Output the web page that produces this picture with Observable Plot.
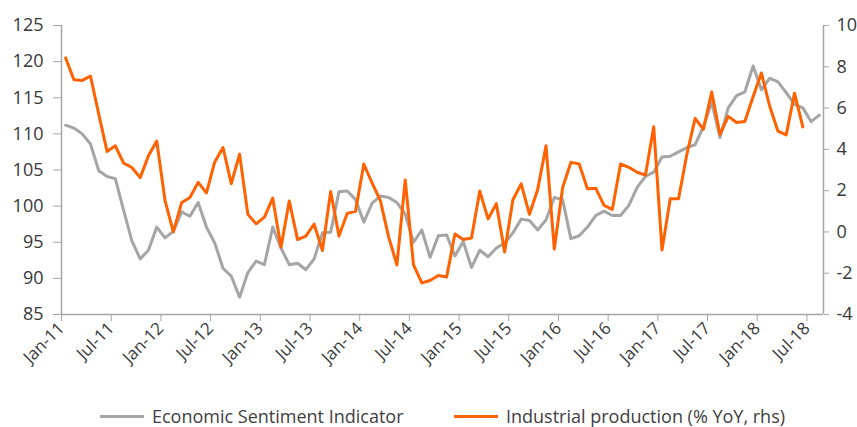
<!DOCTYPE html>
<html>
<head>
<meta charset="utf-8">
<script src="https://cdn.jsdelivr.net/npm/d3@7"></script>
<script src="https://cdn.jsdelivr.net/npm/@observablehq/plot@0.6"></script>
<style>
  html, body { margin: 0; padding: 0; background: #fff; }
  body { width: 857px; height: 427px; position: relative; overflow: hidden; font-family: "Open Sans", "Noto Sans", sans-serif; }
  #legend { position: absolute; left: 0; top: 402px; width: 857px; height: 28px; font-size: 18px; color: #404040; }
  .item { position: absolute; top: 0; display: flex; align-items: center; height: 28px; white-space: nowrap; }
  .swatch { display: inline-block; width: 44px; height: 3px; margin-right: 8px; }
</style>
</head>
<body>
<div id="chart"></div>
<div id="legend">
  <div class="item" style="left:100px"><span class="swatch" style="background:#a5a5a5"></span><span>Economic Sentiment Indicator</span></div>
  <div class="item" style="left:454px"><span class="swatch" style="background:#ff6200"></span><span>Industrial production (% YoY, rhs)</span></div>
</div>
<script>
// Monthly series, Jan-11 onwards
const esi = [
  111.2, 110.8, 110.0, 108.6, 104.9, 104.1, 103.8, 99.4, 95.2, 92.7, 93.9, 97.1,
  95.6, 96.5, 99.2, 98.6, 100.5, 97.1, 94.9, 91.4, 90.3, 87.4, 90.8, 92.4,
  91.9, 97.1, 94.2, 91.9, 92.1, 91.2, 92.7, 96.3, 96.4, 102.0, 102.1, 100.9,
  97.8, 100.4, 101.4, 101.2, 100.5, 98.9, 95.0, 96.7, 92.9, 95.9, 96.0, 93.1,
  95.1, 91.5, 93.9, 93.0, 94.2, 94.9, 96.3, 98.2, 98.0, 96.7, 98.1, 101.2,
  100.9, 95.5, 95.9, 97.1, 98.7, 99.3, 98.7, 98.7, 100.1, 102.6, 104.1, 104.7,
  106.8, 106.9, 107.5, 108.1, 108.5, 111.0, 114.4, 109.5, 113.6, 115.3, 115.8, 119.4,
  116.1, 117.7, 117.2, 115.7, 114.1, 113.6, 111.7, 112.6
];
const ip = [
  8.43, 7.37, 7.34, 7.55, 5.7, 3.9, 4.17, 3.33, 3.12, 2.63, 3.69, 4.4,
  1.52, 0.0, 1.41, 1.67, 2.4, 1.89, 3.39, 4.09, 2.34, 3.77, 0.85, 0.39,
  0.72, 1.64, -0.74, 1.5, -0.37, -0.2, 0.38, -0.9, 1.96, -0.2, 0.9, 1.0,
  3.29, 2.37, 1.52, -0.25, -1.6, 2.52, -1.6, -2.47, -2.35, -2.11, -2.18, -0.1,
  -0.37, -0.29, 1.98, 0.63, 1.37, -0.97, 1.56, 2.33, 0.85, 2.07, 4.17, -0.83,
  2.14, 3.37, 3.29, 2.09, 2.12, 1.29, 1.09, 3.29, 3.13, 2.89, 2.75, 5.1,
  -0.88, 1.61, 1.61, 3.75, 5.5, 4.97, 6.78, 4.72, 5.6, 5.3, 5.35, 6.55,
  7.7, 6.1, 4.88, 4.7, 6.72, 5.09
];
const xTickLabels = ["Jan-11","Jul-11","Jan-12","Jul-12","Jan-13","Jul-13","Jan-14","Jul-14",
  "Jan-15","Jul-15","Jan-16","Jul-16","Jan-17","Jul-17","Jan-18","Jul-18"];
const leftTicks = [85, 90, 95, 100, 105, 110, 115, 120, 125];
const rightTicks = [-4, -2, 0, 2, 4, 6, 8, 10];

const rhs = d3.scaleLinear([-4, 10], [85, 125]);
const esiData = esi.map((v, i) => ({i, v}));
const ipData = ip.map((v, i) => ({i, v}));
const xTicks = xTickLabels.map((_, k) => k * 6 - 0.5);
const axisGrey = "#a6a6a6";
const textCol = "#383838";

const chart = Plot.plot({
  width: 857,
  height: 396,
  marginLeft: 61,
  marginRight: 34,
  marginTop: 25,
  marginBottom: 82,
  style: {fontFamily: '"Open Sans", "Noto Sans", sans-serif', fontSize: "18px", background: "#fff", overflow: "visible"},
  x: {domain: [-0.5, 91.5]},
  y: {domain: [85, 125]},
  marks: [
    Plot.axisY(leftTicks, {anchor: "left", tickSize: 8, tickPadding: 10, stroke: axisGrey, color: textCol, fontSize: 18, label: null}),
    Plot.axisY(rightTicks, {anchor: "right", y: d => rhs(d), tickSize: 5, tickPadding: 8, tickFormat: d => String(d), stroke: axisGrey, color: textCol, fontSize: 18, label: null}),
    Plot.axisX(xTicks, {anchor: "bottom", tickSize: 7, tickPadding: 4, tickRotate: -45, tickFormat: d => xTickLabels[Math.round((d + 0.5) / 6)], stroke: axisGrey, color: textCol, fontSize: 17, label: null}),
    Plot.ruleY([85], {stroke: axisGrey, strokeWidth: 1.5}),
    Plot.ruleX([-0.5, 91.5], {stroke: axisGrey, strokeWidth: 1.5}),
    Plot.line(esiData, {x: "i", y: "v", stroke: "#a5a5a5", strokeWidth: 3}),
    Plot.line(ipData, {x: "i", y: d => rhs(d.v), stroke: "#ff6200", strokeWidth: 3})
  ]
});
document.getElementById("chart").appendChild(chart);
</script>
</body>
</html>
